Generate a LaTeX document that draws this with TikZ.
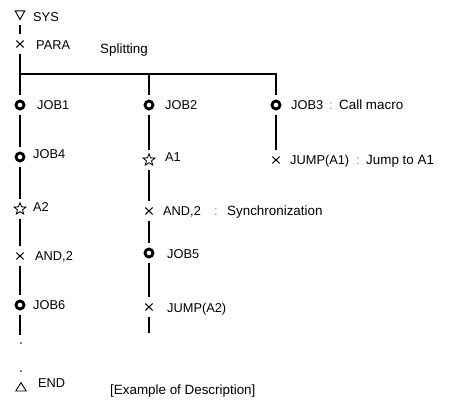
\documentclass[tikz,border=0pt]{standalone}
\usepackage{fontspec}
\setmainfont{Liberation Sans}
\begin{document}
\begin{tikzpicture}[x=1pt,y=-1pt,
  flow/.style={line width=1.5pt},
  sym/.style={circle, minimum size=19pt, inner sep=0pt, draw=none},
  ring/.style={sym, path picture={\draw[line width=2.8pt] (path picture bounding box.center) circle (4pt);}},
  cross/.style={sym, path picture={\draw[line width=1pt, shift={(path picture bounding box.center)}]
      (-3.6pt,-3.4pt) -- (3.6pt,3.4pt) (-3.6pt,3.4pt) -- (3.6pt,-3.4pt);}},
  starsym/.style={sym, path picture={\draw[line width=0.85pt, line join=miter, shift={(path picture bounding box.center)}]
      (90:6.2pt) -- (126:2.7pt) -- (162:6.2pt) -- (198:2.7pt) -- (234:6.2pt) -- (270:2.7pt)
      -- (306:6.2pt) -- (342:2.7pt) -- (18:6.2pt) -- (54:2.7pt) -- cycle;}},
  startsym/.style={sym, path picture={\draw[line width=0.9pt, line join=miter, shift={(path picture bounding box.center)}]
      (-4.8pt,4.2pt) -- (4.8pt,4.2pt) -- (0pt,-4.6pt) -- cycle;}},
  endsym/.style={sym, path picture={\draw[line width=0.9pt, line join=miter, shift={(path picture bounding box.center)}]
      (-5.2pt,-4pt) -- (5.2pt,-4pt) -- (0pt,4.4pt) -- cycle;}},
  dotsym/.style={circle, fill, inner sep=0pt, minimum size=1.8pt},
  lbl/.style={anchor=base west, inner sep=0pt, font=\fontsize{12.8}{14}\selectfont},
  desc/.style={lbl, font=\fontsize{13.4}{15}\selectfont},
  sep/.style={lbl, text=black!45}
]
\useasboundingbox (0,0) rectangle (459,405);

% symbols
\node[startsym] (sys)    at (20,15)  {};
\node[cross]    (para)   at (20,44)  {};
\node[ring]     (job1)   at (20,105) {};
\node[ring]     (job2)   at (149,105) {};
\node[ring]     (job3)   at (276,105) {};
\node[ring]     (job4)   at (20,157) {};
\node[starsym]  (a1)     at (149,160) {};
\node[cross]    (jumpa1) at (276,160) {};
\node[starsym]  (a2)     at (20,209) {};
\node[cross]    (andb)   at (149,211) {};
\node[cross]    (anda)   at (20,256) {};
\node[ring]     (job5)   at (149,253) {};
\node[ring]     (job6)   at (20,305) {};
\node[cross]    (jumpa2) at (149,307) {};
\node[dotsym]   (dot1)   at (21,343) {};
\node[dotsym]   (dot2)   at (21,371) {};
\node[endsym]   (fin)    at (21,387) {};

% labels
\node[lbl]  (tsys)   at (33,21)    {SYS};
\node[lbl]  (tpara)  at (36,49.5)  {PARA};
\node[desc] (tsplit) at (100,53)   {Splitting};
\node[lbl]  (tjob1)  at (37,109.5) {JOB1};
\node[lbl]  (tjob2)  at (165,109.5) {JOB2};
\node[lbl]  (tjob3)  at (291,109.5) {JOB3};
\node[sep]  (c1)     at (329,109.5) {:};
\node[desc] (tcall)  at (339,109.5) {Call macro};
\node[lbl]  (tjob4)  at (33,158)   {JOB4};
\node[lbl]  (ta1)    at (165,161)  {A1};
\node[lbl]  (tjmp1)  at (290,164.5) {JUMP(A1)};
\node[sep]  (c2)     at (356,164.5) {:};
\node[desc] (tjto)   at (366,164.5) {Jump to A1};
\node[lbl]  (ta2)    at (33,211)   {A2};
\node[lbl]  (tandb)  at (163,215.5) {AND,2};
\node[sep]  (c3)     at (214,215.5) {:};
\node[desc] (tsync)  at (227,215.5) {Synchronization};
\node[lbl]  (tanda)  at (35,260.5) {AND,2};
\node[lbl]  (tjob5)  at (167,258)  {JOB5};
\node[lbl]  (tjob6)  at (33,309)   {JOB6};
\node[lbl]  (tjmp2)  at (167,312)  {JUMP(A2)};
\node[lbl]  (tend)   at (38,387)   {END};
\node[desc] (texmp)  at (110,394)  {[Example of Description]};

% flow lines
\coordinate (bar) at (20,74);
\coordinate (tail1) at (20,335);
\coordinate (tail2) at (149,333);
\draw[flow] (sys) -- (para);
\draw[flow] (para) -- (job1);
\draw[line width=1.9pt] (bar) -| (job3);
\draw[flow] (job2) -- (job2 |- bar);
\draw[flow] (job1) -- (job4);
\draw[flow] (job4) -- (a2);
\draw[flow] (a2) -- (anda);
\draw[flow] (anda) -- (job6);
\draw[flow] (job6) -- (tail1);
\draw[flow] (job2) -- (a1);
\draw[flow] (a1) -- (andb);
\draw[flow] (andb) -- (job5);
\draw[flow] (job5) -- (jumpa2);
\draw[flow] (jumpa2) -- (tail2);
\draw[flow] (job3) -- (jumpa1);
\end{tikzpicture}
\end{document}
